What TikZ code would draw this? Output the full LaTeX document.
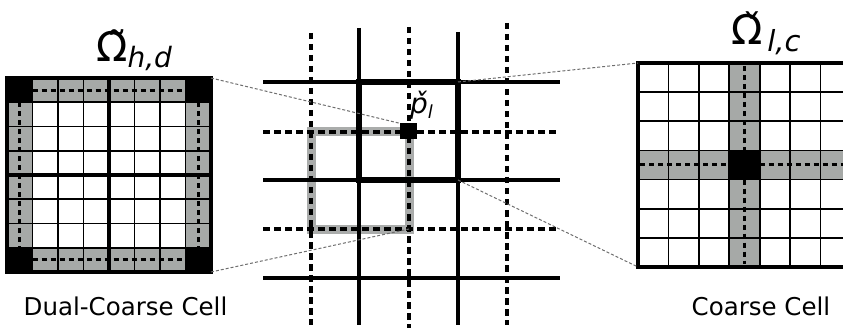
\documentclass[tikz,border=0pt]{standalone}
\usepackage{fontspec}
\setmainfont{DejaVu Sans}
\definecolor{cellgray}{RGB}{166,169,167}
\definecolor{boxgray}{RGB}{170,172,171}
\definecolor{linkgray}{RGB}{110,110,110}
\begin{document}
\begin{tikzpicture}[x=1pt,y=-1pt,
  thingrid/.style={line width=1.8pt},
  thickmid/.style={line width=4.5pt},
  borderline/.style={draw, line width=3.2pt, inner sep=0pt, outer sep=0pt},
  dashline/.style={line width=3pt, dash pattern=on 5pt off 4pt},
  middash/.style={line width=3.6pt, dash pattern=on 6.5pt off 4.5pt},
  midsolid/.style={line width=4pt},
  link/.style={draw=linkgray, line width=1pt, dash pattern=on 3pt off 2pt},
  bigsym/.style={inner sep=0pt, anchor=base west, font=\fontsize{41}{43}\selectfont},
  caption/.style={inner sep=0pt, anchor=base, font=\fontsize{24.5}{26}\selectfont}
]
\useasboundingbox (0,0) rectangle (843,331);
\clip (0,0) rectangle (843,331);

% ---------- left: dual-coarse cell ----------
\fill[cellgray] (7,78) rectangle (211,102.25);
\fill[cellgray] (7,247.75) rectangle (211,272);
\fill[cellgray] (7,78) rectangle (32.5,272);
\fill[cellgray] (185.5,78) rectangle (211,272);
\foreach \i in {1,2,3,5,6,7} {
  \draw[thingrid] ({7+\i*25.5},78) -- ({7+\i*25.5},272);
  \draw[thingrid] (7,{78+\i*24.25}) -- (211,{78+\i*24.25});
}
\fill (7,78) rectangle (32.5,102.25);
\fill (185.5,78) rectangle (211,102.25);
\fill (7,247.75) rectangle (32.5,272);
\fill (185.5,247.75) rectangle (211,272);
\draw[thickmid] (109,78) -- (109,272);
\draw[thickmid] (7,175) -- (211,175);
\node[borderline, minimum width=204pt, minimum height=194pt] (dual) at (109,175) {};
\draw[dashline] (32.5,90.1) -- (185.5,90.1);
\draw[dashline] (32.5,259.9) -- (185.5,259.9);
\draw[dashline] (19.75,102.25) -- (19.75,247.75);
\draw[dashline] (198.25,102.25) -- (198.25,247.75);

% ---------- right: coarse cell ----------
\fill[cellgray] (729.2,63) rectangle (759.6,267);
\fill[cellgray] (638,150.4) rectangle (860,179.6);
\foreach \i in {1,...,6} {
  \draw[thingrid] ({638+\i*30.4},63) -- ({638+\i*30.4},267);
  \draw[thingrid] (638,{63+\i*29.14}) -- (860,{63+\i*29.14});
}
\fill (729.2,150.4) rectangle (759.6,179.6);
\node[borderline, line width=4.2pt, minimum width=212.8pt, minimum height=204pt] (coarse) at (744.4,165) {};
\draw[dashline] (744.4,66) -- (744.4,150.4);
\draw[dashline] (744.4,179.6) -- (744.4,264);
\draw[dashline] (640,165) -- (729.2,165);
\draw[dashline] (759.6,165) -- (860,165);

% ---------- middle grid ----------
\node[draw=boxgray, line width=9pt, inner sep=0pt, outer sep=0pt,
      minimum width=98pt, minimum height=97pt] (dualcell) at (360,180.5) {};
\draw[midsolid] (263,82) -- (560,82);
\draw[midsolid] (263,180) -- (560,180);
\draw[midsolid] (263,278) -- (560,278);
\draw[midsolid] (359,28) -- (359,325);
\draw[midsolid] (458,32) -- (458,325);
\draw[middash] (263,132) -- (560,132);
\draw[middash] (263,229) -- (560,229);
\draw[middash] (311,33) -- (311,325);
\draw[middash] (409,27) -- (409,328);
\draw[middash] (507,23) -- (507,325);
\node[draw, line width=6pt, inner sep=0pt, outer sep=0pt,
      minimum width=99pt, minimum height=98pt] (cc) at (408.5,131) {};
\node[fill=black, inner sep=0pt, minimum width=17pt, minimum height=16pt] (pl) at (408.5,131.5) {};

% ---------- connectors ----------
\draw[link] (dual.north east) -- (pl.north west);
\draw[link] (dual.south east) -- (dualcell.south east);
\draw[link] (cc.north east) -- (coarse.north west);
\draw[link] (cc.south east) -- (coarse.south west);

% ---------- labels ----------
\node[bigsym] (tdual) at (96,62) {Ω̃\raisebox{-6pt}{\fontsize{28}{29}\selectfont\itshape h,d}};
\node[bigsym] (tcoarse) at (731,45) {Ω̌\raisebox{-7pt}{\fontsize{29}{30}\selectfont\itshape\,l,c}};
\node[inner sep=0pt, anchor=base west, font=\fontsize{28}{29}\selectfont\itshape] (lpl) at (410,114) {p̌\raisebox{-5pt}{\fontsize{18}{19}\selectfont l}};
\node[caption] (cdual) at (125.5,315) {Dual-Coarse Cell};
\node[caption] (ccoarse) at (761,315) {Coarse Cell};
\end{tikzpicture}
\end{document}
